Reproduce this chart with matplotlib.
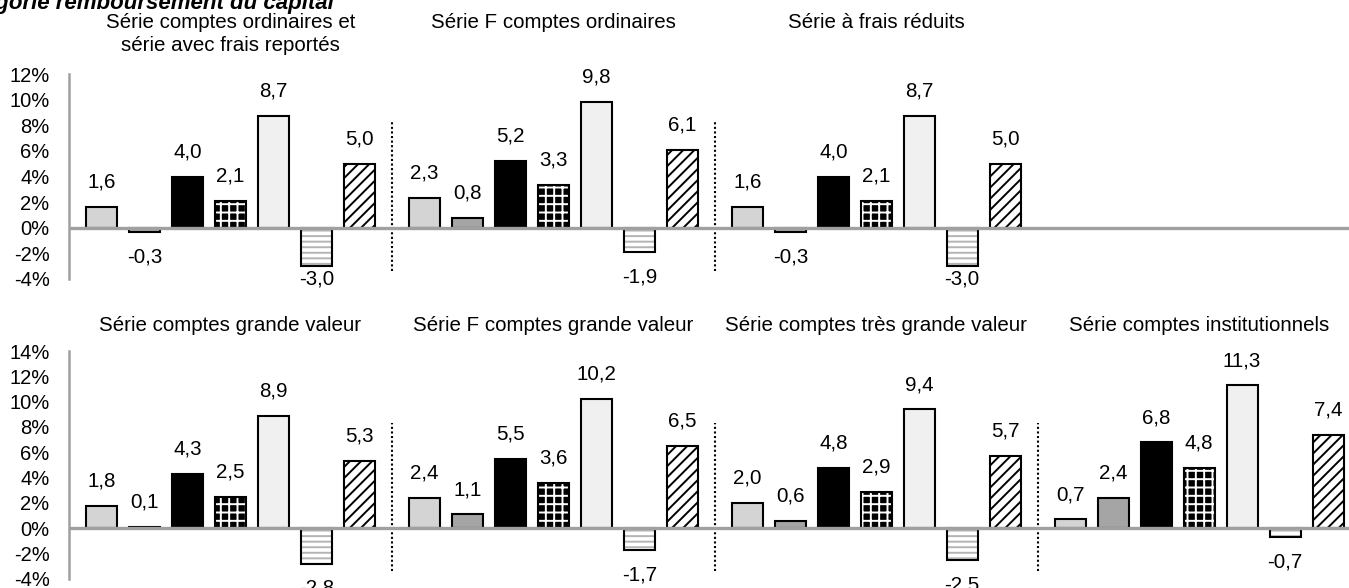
import matplotlib
matplotlib.use("Agg")
import matplotlib.pyplot as plt
import matplotlib.transforms as mtransforms

plt.rcParams['font.family'] = ['Liberation Sans', 'DejaVu Sans']
plt.rcParams['hatch.linewidth'] = 1.4

# Data: rendement par série (en %), 7 périodes par série
top_titles = ["Série comptes ordinaires et\nsérie avec frais reportés",
              "Série F comptes ordinaires",
              "Série à frais réduits"]
top_values = [
    [1.6, -0.3, 4.0, 2.1, 8.7, -3.0, 5.0],
    [2.3, 0.8, 5.2, 3.3, 9.8, -1.9, 6.1],
    [1.6, -0.3, 4.0, 2.1, 8.7, -3.0, 5.0],
]
bottom_titles = ["Série comptes grande valeur",
                 "Série F comptes grande valeur",
                 "Série comptes très grande valeur",
                 "Série comptes institutionnels"]
bottom_values = [
    [1.8, 0.1, 4.3, 2.5, 8.9, -2.8, 5.3],
    [2.4, 1.1, 5.5, 3.6, 10.2, -1.7, 6.5],
    [2.0, 0.6, 4.8, 2.9, 9.4, -2.5, 5.7],
    [0.7, 2.4, 6.8, 4.8, 11.3, -0.7, 7.4],
]
top_yticks = [-4, -2, 0, 2, 4, 6, 8, 10, 12]
bottom_yticks = [-4, -2, 0, 2, 4, 6, 8, 10, 12, 14]
main_title = "Catégorie remboursement du capital"

# bar styles (face, hatch, hatch colour)
styles = [
    ("#d4d4d4", None, None),
    ("#a5a5a5", None, None),
    ("#000000", None, None),
    ("#000000", "++", "white"),
    ("#f0f0f0", None, None),
    ("#ffffff", "---", "#b4b4b4"),
    ("#ffffff", "///", "black"),
]

W, H = 1349, 588
STEP = 0.133
BAR_W = 0.096
LABEL_OFF = 1.95


def fmt(v):
  return f"{v:.1f}".replace(".", ",")


def draw_row(fig, ax, titles, values, yticks, title_top_px, sep_count, clamp):
  """Draws one row of grouped bars."""
  n = len(values)
  for g in range(n):
    for k, v in enumerate(values[g]):
      x = g + (k - 3) * STEP
      face, hatch, hcol = styles[k]
      if hatch:
        ax.bar(x, v, BAR_W, color=face, edgecolor=hcol, hatch=hatch,
               linewidth=0, zorder=2)
        ax.bar(x, v, BAR_W, fill=False, edgecolor="black", linewidth=1.5,
               zorder=3)
      else:
        ax.bar(x, v, BAR_W, color=face, edgecolor="black", linewidth=1.5,
               zorder=3)
      if v >= 0:
        y = v + LABEL_OFF
      else:
        y = v - LABEL_OFF
        if clamp:
          y = max(y, yticks[0])
      ax.text(x, y, fmt(v), ha="center", va="center", fontsize=14.8,
              clip_on=False)

  # dotted separators between groups
  for s in range(sep_count):
    ax.plot([s + 0.5, s + 0.5], [-3.4, 8.3], color="black", linestyle=(0, (1, 1.2)),
            linewidth=1.5, zorder=1)

  ax.axhline(0, color="#a0a0a0", linewidth=2.4, zorder=4)

  trans = mtransforms.blended_transform_factory(ax.transData, fig.transFigure)
  for g, t in enumerate(titles):
    ax.text(g, 1 - title_top_px / H, t, transform=trans, ha="center", va="top",
            fontsize=14.8, linespacing=1.25)

  ax.set_xlim(-0.5, 3.464)
  ax.set_ylim(yticks[0], yticks[-1])
  ax.set_yticks(yticks)
  ax.set_yticklabels([f"{t}%" for t in yticks])
  ax.set_xticks([])
  for side in ["top", "right", "bottom"]:
    ax.spines[side].set_visible(False)
  ax.spines["left"].set_color("#a0a0a0")
  ax.spines["left"].set_linewidth(1.8)
  ax.tick_params(axis="y", length=0, pad=14, labelsize=14.5)


def main():
  fig = plt.figure(figsize=(W / 100, H / 100), dpi=100)
  left = 69 / W
  width = 1 - left
  ax_top = fig.add_axes([left, 1 - 279 / H, width, (279 - 74) / H])
  ax_bot = fig.add_axes([left, 1 - 579 / H, width, (579 - 351) / H])

  draw_row(fig, ax_top, top_titles, top_values, top_yticks, 13, 2, True)
  draw_row(fig, ax_bot, bottom_titles, bottom_values, bottom_yticks, 316, 3, False)

  fig.text(334 / W, 1 - 9 / H, main_title, ha="right", va="baseline",
           fontsize=16, fontweight="bold", fontstyle="italic")

  fig.savefig("out.png", dpi=100)


if __name__ == "__main__":
  main()
